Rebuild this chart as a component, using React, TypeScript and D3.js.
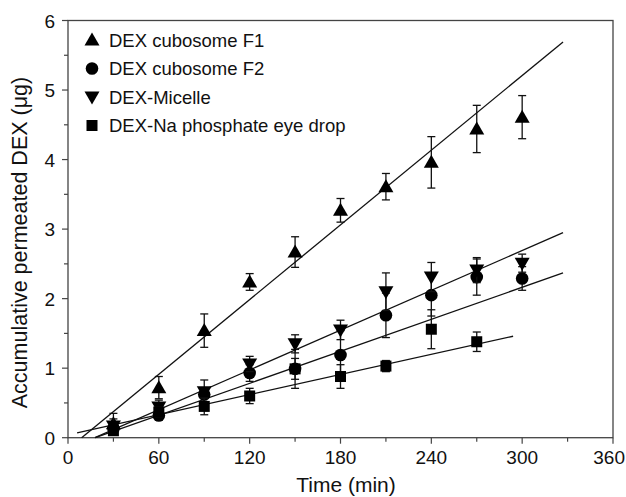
import React from "react";
import * as d3 from "d3";

const times = [30, 60, 90, 120, 150, 180, 210, 240, 270, 300];
const seriesNames = ["DEX cubosome F1", "DEX cubosome F2", "DEX-Micelle", "DEX-Na phosphate eye drop"];
const symbols = ["triangle", "circle", "triangleDown", "square"];

const f1Values = [0.2, 0.72, 1.54, 2.24, 2.67, 3.27, 3.61, 3.96, 4.44, 4.61];
const f1Err = [0.15, 0.16, 0.24, 0.12, 0.22, 0.17, 0.19, 0.37, 0.34, 0.31];
const f2Values = [0.13, 0.32, 0.62, 0.93, 0.99, 1.19, 1.76, 2.05, 2.31, 2.29];
const f2Err = [0.08, 0.07, 0.1, 0.12, 0.28, 0.35, 0.32, 0.3, 0.26, 0.17];
const micelleValues = [0.17, 0.44, 0.66, 1.06, 1.35, 1.55, 2.1, 2.31, 2.41, 2.51];
const micelleErr = [0.1, 0.1, 0.17, 0.11, 0.13, 0.14, 0.27, 0.21, 0.18, 0.13];
const eyeDropValues = [0.1, 0.37, 0.45, 0.6, 0.99, 0.88, 1.03, 1.56, 1.38];
const eyeDropErr = [0.06, 0.07, 0.12, 0.11, 0.15, 0.17, 0.08, 0.28, 0.14];

// linear fits: slope, intercept, t range
const fitSlopes = [0.0179, 0.00767, 0.00954, 0.00482];
const fitIntercepts = [-0.161, -0.138, -0.17, 0.042];
const fitStart = [9, 18, 17.8, 6];
const fitEnd = [327, 327, 327, 294];

const xTicks = [0, 60, 120, 180, 240, 300, 360];
const xMinor = [30, 90, 150, 210, 270, 330];
const yTicks = [0, 1, 2, 3, 4, 5, 6];
const yMinor = [0.5, 1.5, 2.5, 3.5, 4.5, 5.5];

const allValues = [f1Values, f2Values, micelleValues, eyeDropValues];
const allErr = [f1Err, f2Err, micelleErr, eyeDropErr];

const W = 626, H = 497;
const L = 68, R = 613, T = 20.5, B = 437.7;
const FONT = "'Liberation Sans', Arial, sans-serif";

function Marker({ type, x, y }: { type: string; x: number; y: number }) {
  if (type === "circle") return <circle cx={x} cy={y} r={6.3} fill="#000" />;
  if (type === "square") return <rect x={x - 5.5} y={y - 5.5} width={11} height={11} fill="#000" />;
  if (type === "triangle")
    return <path d={`M${x},${y - 7.5}L${x + 7.5},${y + 5.5}L${x - 7.5},${y + 5.5}Z`} fill="#000" />;
  return <path d={`M${x},${y + 7.5}L${x + 7.5},${y - 5.5}L${x - 7.5},${y - 5.5}Z`} fill="#000" />;
}

export default function App() {
  const x = d3.scaleLinear().domain([0, 360]).range([L, R]);
  const y = d3.scaleLinear().domain([0, 6]).range([B, T]);
  const line = d3.line<number[]>().x((d) => x(d[0])).y((d) => y(d[1]));
  const axisColor = "#444";

  return (
    <svg width={W} height={H} style={{ display: "block", position: "absolute", left: 0, top: 0 }} fontFamily={FONT}>
      <rect x={0} y={0} width={W} height={H} fill="#fff" />
      {/* frame */}
      <rect x={L} y={T} width={R - L} height={B - T} fill="none" stroke={axisColor} strokeWidth={1.3} />
      {/* x ticks */}
      {xTicks.map((t, i) => {
        const last = i === xTicks.length - 1;
        return (
          <g key={"xt" + t}>
            <line x1={x(t)} x2={x(t)} y1={B} y2={B + 6} stroke={axisColor} strokeWidth={1.2} />
            <text x={last ? W - 1 : x(t)} y={B + 26} fontSize={19} textAnchor={last ? "end" : "middle"} fill="#111">{t}</text>
          </g>
        );
      })}
      {xMinor.map((t) => (
        <line key={"xm" + t} x1={x(t)} x2={x(t)} y1={B} y2={B + 4} stroke={axisColor} strokeWidth={1.2} />
      ))}
      {yTicks.map((v) => (
        <g key={"yt" + v}>
          <line x1={L - 6} x2={L} y1={y(v)} y2={y(v)} stroke={axisColor} strokeWidth={1.2} />
          <text x={L - 13} y={y(v) + 7} fontSize={19} textAnchor="end" fill="#111">{v}</text>
        </g>
      ))}
      {yMinor.map((v) => (
        <line key={"ym" + v} x1={L - 4} x2={L} y1={y(v)} y2={y(v)} stroke={axisColor} strokeWidth={1.2} />
      ))}
      <text x={346} y={492} fontSize={21} textAnchor="middle" fill="#111">Time (min)</text>
      <text transform={`translate(27,242.5) rotate(-90)`} fontSize={21.5} textAnchor="middle" fill="#111">
        Accumulative permeated DEX (μg)
      </text>

      {/* fit lines */}
      {fitSlopes.map((s, i) => {
        const t0 = fitStart[i], t1 = fitEnd[i];
        const pts = [[t0, s * t0 + fitIntercepts[i]], [t1, s * t1 + fitIntercepts[i]]];
        return <path key={"fit" + i} d={line(pts) || ""} fill="none" stroke="#111" strokeWidth={1.3} />;
      })}

      {/* error bars and markers */}
      {allValues.map((vals, si) => (
        <g key={"s" + si}>
          {vals.map((v, i) => {
            const e = allErr[si][i];
            const cx = x(times[i]);
            return (
              <g key={i} stroke="#111" strokeWidth={1.3}>
                <line x1={cx} x2={cx} y1={y(v - e)} y2={y(v + e)} />
                <line x1={cx - 4} x2={cx + 4} y1={y(v + e)} y2={y(v + e)} />
                <line x1={cx - 4} x2={cx + 4} y1={y(v - e)} y2={y(v - e)} />
              </g>
            );
          })}
          {vals.map((v, i) => (
            <Marker key={"m" + i} type={symbols[si]} x={x(times[i])} y={y(v)} />
          ))}
        </g>
      ))}

      {/* legend */}
      {seriesNames.map((n, i) => (
        <g key={"lg" + i}>
          <Marker type={symbols[i]} x={92} y={40 + i * 28.5} />
          <text x={109} y={40 + i * 28.5 + 6.5} fontSize={18.5} fill="#111">{n}</text>
        </g>
      ))}
    </svg>
  );
}
